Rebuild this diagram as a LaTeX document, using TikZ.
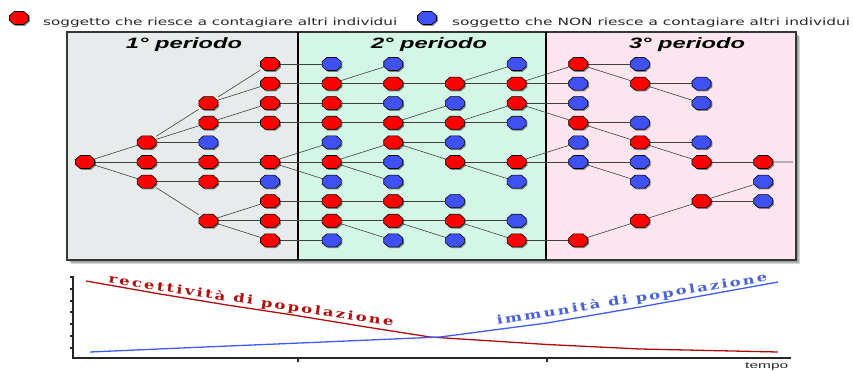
\documentclass[tikz,border=0pt]{standalone}
\usepackage{fontspec}
\usepackage{graphicx}
\setmainfont{DejaVu Sans}
\newfontfamily\legendfont{DejaVu Sans}
\newfontfamily\titlefont{Liberation Sans}
\newfontfamily\curvefont[LetterSpace=14]{DejaVu Serif}
\definecolor{infred}{HTML}{FF0000}
\definecolor{immblue}{HTML}{3F51F2}
\definecolor{periodA}{HTML}{E8EBEB}
\definecolor{periodB}{HTML}{D3F6E6}
\definecolor{periodC}{HTML}{FDE5EF}
\definecolor{frame}{HTML}{303838}
\definecolor{recred}{HTML}{B00C0C}
\definecolor{immline}{HTML}{3F5CF0}
\definecolor{immtext}{HTML}{4A60D8}
\pgfdeclarelayer{panel}
\pgfdeclarelayer{links}
\pgfsetlayers{panel,links,main}
% stretch a text horizontally to a given width
\newcommand\wideto[2]{\resizebox{#1}{\height}{#2}}
% octagonal token with a soft shadow, drawn over a named slot node
\newcommand\octagon[2]{%
  \fill[black, opacity=.45, shift={(#2.center)}, xshift=1.3pt, yshift=-1.3pt, octpath];
  \filldraw[#1, shift={(#2.center)}, octpath];}
% one individual: style, column, row
\newcommand\indiv[3]{%
  \node[slot] (n#2-#3) at ({85+61.65*#2},{64+19.6*#3}) {};
  \octagon{#1}{n#2-#3}}
% contagion links from one individual to its successors
\newcommand\spread[2]{\foreach \kid in {#2} {\draw[link] (n#1) -- (n\kid);}}
\tikzset{
  slot/.style={rectangle, minimum width=19pt, minimum height=13pt, inner sep=0pt},
  octpath/.style={insert path={(-4.8,-6.5) -- (4.8,-6.5) -- (9.5,-2.4) -- (9.5,2.4)
      -- (4.8,6.5) -- (-4.8,6.5) -- (-9.5,2.4) -- (-9.5,-2.4) -- cycle}},
  inf/.style={fill=infred, draw=black, line width=0.6pt},
  imm/.style={fill=immblue, draw=black, line width=0.6pt},
  link/.style={draw=black!75, line width=0.6pt},
  title/.style={inner sep=0pt, font=\titlefont\bfseries\itshape\fontsize{15}{17}\selectfont},
  legend/.style={anchor=base west, inner sep=0pt, font=\legendfont\fontsize{10}{12}\selectfont, text=black!85},
  axis/.style={draw=black!85, line width=1.4pt},
  curvelabel/.style={anchor=base, inner sep=0pt, text=#1,
      font=\curvefont\bfseries\fontsize{12}{14}\selectfont},
}
\begin{document}
\begin{tikzpicture}[x=1pt, y=-1pt]
\useasboundingbox (0,0) rectangle (853,371);

% ---------- panel with the three periods ----------
\begin{pgfonlayer}{panel}
  \foreach \s in {1,...,4}
    \fill[frame, opacity=.2] (67+\s,32+\s) rectangle (796+\s,260+\s);
  \fill[periodA] (67,32) rectangle (298,260);
  \fill[periodB] (298,32) rectangle (546,260);
  \fill[periodC] (546,32) rectangle (796,260);
  \draw[frame, line width=1.4pt] (67,32) rectangle (796,260);
  \draw[black, line width=2pt] (298,32) -- (298,260);
  \draw[black, line width=2pt] (546,32) -- (546,260);
\end{pgfonlayer}

\node[title] (p1) at (184,45) {\wideto{116pt}{1° periodo}};
\node[title] (p2) at (429,45) {\wideto{116pt}{2° periodo}};
\node[title] (p3) at (687,45) {\wideto{116pt}{3° periodo}};

% ---------- legend ----------
\node[slot] (keyA) at (19,18) {};
\octagon{inf}{keyA}
\node[legend] (keyAtext) at (43,26) {\wideto{354pt}{soggetto che riesce a contagiare altri individui}};
\node[slot] (keyB) at (427,18) {};
\octagon{imm}{keyB}
\node[legend] (keyBtext) at (452,26) {\wideto{398pt}{soggetto che NON riesce a contagiare altri individui}};

% ---------- individuals ----------
\indiv{inf}{0}{5}
\indiv{inf}{1}{4} \indiv{inf}{1}{5} \indiv{inf}{1}{6}
\indiv{inf}{2}{2} \indiv{inf}{2}{3} \indiv{imm}{2}{4} \indiv{inf}{2}{5} \indiv{inf}{2}{6} \indiv{inf}{2}{8}
\indiv{inf}{3}{0} \indiv{inf}{3}{1} \indiv{inf}{3}{2} \indiv{inf}{3}{3} \indiv{inf}{3}{5}
\indiv{imm}{3}{6} \indiv{inf}{3}{7} \indiv{inf}{3}{8} \indiv{inf}{3}{9}
\indiv{imm}{4}{0} \indiv{inf}{4}{1} \indiv{inf}{4}{2} \indiv{inf}{4}{3} \indiv{imm}{4}{4}
\indiv{inf}{4}{5} \indiv{imm}{4}{6} \indiv{inf}{4}{7} \indiv{inf}{4}{8} \indiv{imm}{4}{9}
\indiv{imm}{5}{0} \indiv{inf}{5}{1} \indiv{imm}{5}{2} \indiv{inf}{5}{3} \indiv{inf}{5}{4}
\indiv{imm}{5}{5} \indiv{imm}{5}{6} \indiv{inf}{5}{7} \indiv{inf}{5}{8} \indiv{imm}{5}{9}
\indiv{inf}{6}{1} \indiv{imm}{6}{2} \indiv{inf}{6}{3} \indiv{imm}{6}{4} \indiv{inf}{6}{5}
\indiv{imm}{6}{7} \indiv{inf}{6}{8} \indiv{imm}{6}{9}
\indiv{imm}{7}{0} \indiv{inf}{7}{1} \indiv{inf}{7}{2} \indiv{imm}{7}{3} \indiv{inf}{7}{5}
\indiv{imm}{7}{6} \indiv{imm}{7}{8} \indiv{inf}{7}{9}
\indiv{inf}{8}{0} \indiv{imm}{8}{1} \indiv{imm}{8}{2} \indiv{inf}{8}{3} \indiv{imm}{8}{4}
\indiv{imm}{8}{5} \indiv{inf}{8}{9}
\indiv{imm}{9}{0} \indiv{inf}{9}{1} \indiv{imm}{9}{3} \indiv{inf}{9}{4} \indiv{imm}{9}{5}
\indiv{imm}{9}{6} \indiv{inf}{9}{8}
\indiv{imm}{10}{1} \indiv{imm}{10}{2} \indiv{imm}{10}{4} \indiv{inf}{10}{5} \indiv{inf}{10}{7}
\indiv{inf}{11}{5} \indiv{imm}{11}{6} \indiv{imm}{11}{7}
\coordinate (tail) at (793,162);

% ---------- contagion links ----------
\begin{pgfonlayer}{links}
  \spread{0-5}{1-4,1-5,1-6}
  \spread{1-4}{2-2,2-3,2-4}
  \spread{1-5}{2-5}
  \spread{1-6}{2-6,2-8}
  \spread{2-2}{3-0,3-1}
  \spread{2-3}{3-2,3-3}
  \spread{2-5}{3-5}
  \spread{2-6}{3-6}
  \spread{2-8}{3-7,3-8,3-9}
  \spread{3-0}{4-0}
  \spread{3-1}{4-1}
  \spread{3-2}{4-2}
  \spread{3-3}{4-3}
  \spread{3-5}{4-4,4-5,4-6}
  \spread{3-7}{4-7}
  \spread{3-8}{4-8}
  \spread{3-9}{4-9}
  \spread{4-1}{5-0,5-1}
  \spread{4-2}{5-2}
  \spread{4-3}{5-3}
  \spread{4-5}{5-4,5-5,5-6}
  \spread{4-7}{5-7}
  \spread{4-8}{5-8,5-9}
  \spread{5-1}{6-1}
  \spread{5-3}{6-2,6-3}
  \spread{5-4}{6-4,6-5}
  \spread{5-7}{6-7}
  \spread{5-8}{6-8,6-9}
  \spread{6-1}{7-0,7-1}
  \spread{6-3}{7-2,7-3}
  \spread{6-5}{7-5,7-6}
  \spread{6-8}{7-8,7-9}
  \spread{7-1}{8-0,8-1}
  \spread{7-2}{8-2,8-3}
  \spread{7-5}{8-4,8-5}
  \spread{7-9}{8-9}
  \spread{8-0}{9-0,9-1}
  \spread{8-3}{9-3,9-4}
  \spread{8-5}{9-5,9-6}
  \spread{8-9}{9-8}
  \spread{9-1}{10-1,10-2}
  \spread{9-4}{10-4,10-5}
  \spread{9-8}{10-7}
  \spread{10-5}{11-5}
  \spread{10-7}{11-6,11-7}
  \draw[link] (n11-5) -- (tail);
\end{pgfonlayer}

% ---------- population graph ----------
\draw[axis] (73,276) -- (73,358) -- (791,358);
\foreach \yy in {277,289,301,312,324,336,348}
  \draw[axis, line width=1.2pt] (69.5,\yy) -- (73,\yy);
\foreach \xx in {298,547}
  \draw[axis, line width=1.2pt] (\xx,358) -- (\xx,362);

\draw[recred, line width=1.3pt] (86,281) -- (160,294) -- (227,305) -- (293,315)
  -- (360,326) -- (430,337) -- (547,344.5) -- (640,349) -- (778,352);
\draw[immline, line width=1.3pt] (90,352) -- (193,347.5) -- (293,343.3) -- (393,339)
  -- (440,337) -- (547,323) -- (640,307) -- (778,282);

\node[curvelabel=recred, rotate=-8.6] (reclabel) at (250.5,304.5)
  {\wideto{288pt}{recettività di popolazione}};
\node[curvelabel=immtext, rotate=9.2] (immlabel) at (632.5,303)
  {\wideto{274pt}{immunità di popolazione}};

\node[anchor=base west, inner sep=0pt, font=\titlefont\fontsize{9}{10}\selectfont, text=black!85]
  (tempo) at (745,368) {\wideto{43pt}{tempo}};
\end{tikzpicture}
\end{document}
